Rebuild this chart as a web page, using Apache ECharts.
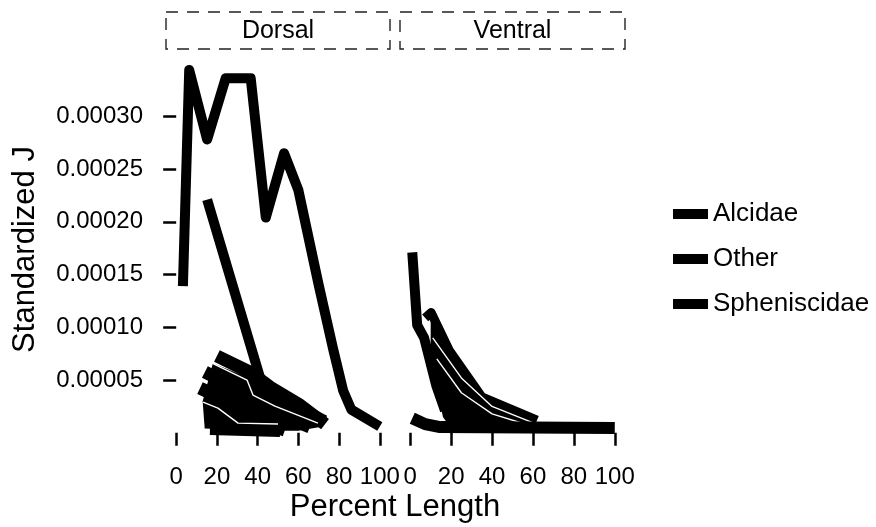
<!DOCTYPE html>
<html>
<head>
<meta charset="utf-8">
<script src="https://cdn.jsdelivr.net/npm/echarts@6/dist/echarts.min.js"></script>
<style>
  html, body { margin: 0; padding: 0; background: #fff; }
  #chart { width: 876px; height: 527px; }
</style>
</head>
<body>
<div id="chart"></div>
<script>
// tick positions
const xTicks = [0, 20, 40, 60, 80, 100]
const yTicks = [0.00005, 0.0001, 0.00015, 0.0002, 0.00025, 0.0003]
const panels = ['Dorsal', 'Ventral']
const groups = ['Alcidae', 'Other', 'Spheniscidae']

// Dorsal panel, [percent length, standardized J]
const dorsalOther = [[3.3, 0.000139], [6.4, 0.000344], [15.2, 0.000278], [24.3, 0.000336], [36.6, 0.000336],
  [44, 0.000204], [53, 0.000265], [60, 0.00023], [70, 0.00014], [77, 0.00008], [82, 0.00004], [86, 0.000022], [100, 0.000006]]
const dorsalSphen = [[15.2, 0.000221], [42, 0.000047], [55, 0.00003], [73, 0.000012]]
const dorsalBandA = [[20, 0.0000728], [36.2, 0.0000576], [46, 0.0000434], [60.8, 0.0000263], [73.1, 0.0000083]]
const dorsalBandB = [[14.1, 0.0000576], [33.8, 0.0000386], [48.5, 0.0000196], [65.7, 0.0000054]]
const dorsalBandC = [[11.7, 0.0000424], [26.4, 0.0000291], [42.1, 0.0000102], [53.4, 0.0000026]]
const dorsalBandD = [[16.6, 0.0000035], [51, 0.0000016]]
const dorsalRibbon = [[18, 0.000066], [36, 0.000052], [46, 0.00004], [61, 0.000022], [72, 0.000006],
  [60, 0.000002], [40, 0.000002], [14, 0.000004], [13, 0.00003]]
const dorsalEdge1 = [[16.6, 0.0000671], [34.8, 0.00005], [37.7, 0.0000358], [48.5, 0.0000253], [69.6, 0.0000092]]
const dorsalEdge2 = [[13.2, 0.0000291], [20.5, 0.0000234], [30.4, 0.0000092], [50, 0.0000083]]

// Ventral panel
const ventralOther = [[1, 0.000171], [3.4, 0.000102], [6.8, 0.00009], [12.7, 0.000045], [17, 0.000021]]
const ventralAlc = [[7.3, 0.000109], [10.2, 0.000114], [19, 0.0000785], [35, 0.000034], [62, 0.000012]]
const ventralSphen = [[1, 0.0000138], [7.3, 0.0000082], [14.6, 0.0000054], [100, 0.0000045]]
const ventralRibbon = [[10, 0.000112], [19, 0.000078], [35, 0.000034], [62, 0.00001], [62, 0.000004],
  [20, 0.000004], [16, 0.000015], [12.7, 0.000045], [10, 0.00007]]
const ventralEdge1 = [[11, 0.00009], [25, 0.000052], [40, 0.000025], [62, 0.000008]]
const ventralEdge2 = [[13, 0.00007], [25, 0.000038], [40, 0.000018], [60, 0.000006]]

const FONT = 'Liberation Sans, Arial, Helvetica, sans-serif'
const chart = echarts.init(document.getElementById('chart'))

function line(name, data, idx, width, color, z) {
  return {
    name,
    type: 'line',
    xAxisIndex: idx,
    yAxisIndex: idx,
    data,
    showSymbol: false,
    symbol: 'none',
    silent: true,
    z: z || 2,
    lineStyle: { color: color || '#000', width, cap: 'butt', join: 'round' },
    itemStyle: { color: color || '#000' },
  }
}

// filled ribbon polygon, placed through the axis scales
function ribbon(poly, idx) {
  return {
    name: 'ribbon',
    type: 'custom',
    xAxisIndex: idx,
    yAxisIndex: idx,
    silent: true,
    z: 1,
    data: [poly[0]],
    renderItem: (params, api) => ({
      type: 'polygon',
      shape: { points: poly.map((p) => api.coord(p)) },
      style: { fill: '#000' },
    }),
  }
}

const grids = [
  { left: 166, width: 224, top: 53, height: 393 },
  { left: 400, width: 225, top: 53, height: 393 },
]

const xAxes = grids.map((g, i) => ({
  type: 'value',
  gridIndex: i,
  min: -5,
  max: 105,
  axisLine: { show: false },
  splitLine: { show: false },
  axisTick: { customValues: xTicks, length: 13, lineStyle: { color: '#000', width: 2.5 } },
  axisLabel: { customValues: xTicks, margin: 19, color: '#000', fontSize: 24, fontFamily: FONT },
}))

const yAxes = grids.map((g, i) => ({
  type: 'value',
  gridIndex: i,
  min: -0.0000125,
  max: 0.00036,
  show: i === 0,
  name: i === 0 ? 'Standardized J' : '',
  nameLocation: 'middle',
  nameGap: 125,
  nameTextStyle: { color: '#000', fontSize: 31, fontFamily: FONT },
  axisLine: { show: false },
  splitLine: { show: false },
  axisTick: { customValues: yTicks, length: 13, lineStyle: { color: '#000', width: 2.5 } },
  axisLabel: {
    customValues: yTicks,
    margin: 23,
    color: '#000',
    fontSize: 24,
    fontFamily: FONT,
    formatter: (v) => v.toFixed(5),
  },
}))

const series = [
  // dorsal bundle
  ribbon(dorsalRibbon, 0),
  line('Alcidae', dorsalBandD, 0, 12),
  line('Alcidae', dorsalBandC, 0, 13),
  line('Alcidae', dorsalBandB, 0, 13),
  line('Alcidae', dorsalBandA, 0, 13),
  line('edge', dorsalEdge1, 0, 1.4, '#fff', 3),
  line('edge', dorsalEdge2, 0, 1.4, '#fff', 3),
  line('Spheniscidae', dorsalSphen, 0, 10, '#000', 4),
  line('Other', dorsalOther, 0, 10, '#000', 4),
  // ventral
  ribbon(ventralRibbon, 1),
  line('Alcidae', ventralAlc, 1, 9),
  line('Other', ventralOther, 1, 10),
  line('edge', ventralEdge1, 1, 1.4, '#fff', 3),
  line('edge', ventralEdge2, 1, 1.4, '#fff', 3),
  line('Spheniscidae', ventralSphen, 1, 12, '#000', 4),
]

const strips = grids.map((g, i) => [
  {
    type: 'rect',
    shape: { x: g.left, y: 12, width: g.width, height: 37 },
    style: { fill: 'none', stroke: '#222', lineWidth: 1.4, lineDash: [12, 9] },
  },
  {
    type: 'text',
    x: g.left + g.width / 2,
    y: 31,
    style: { text: panels[i], fill: '#000', font: `25px ${FONT}`, align: 'center', verticalAlign: 'middle' },
  },
]).flat()

chart.setOption({
  backgroundColor: '#fff',
  animation: false,
  grid: grids,
  xAxis: xAxes,
  yAxis: yAxes,
  legend: {
    data: groups,
    orient: 'vertical',
    left: 668,
    top: 196,
    icon: 'rect',
    itemWidth: 35,
    itemHeight: 10,
    itemGap: 19,
    selectedMode: false,
    textStyle: { color: '#000', fontSize: 26, fontFamily: FONT },
  },
  graphic: [
    ...strips,
    {
      type: 'text',
      x: 395,
      y: 507,
      style: { text: 'Percent Length', fill: '#000', font: `31px ${FONT}`, align: 'center', verticalAlign: 'middle' },
    },
  ],
  series,
})
</script>
</body>
</html>
